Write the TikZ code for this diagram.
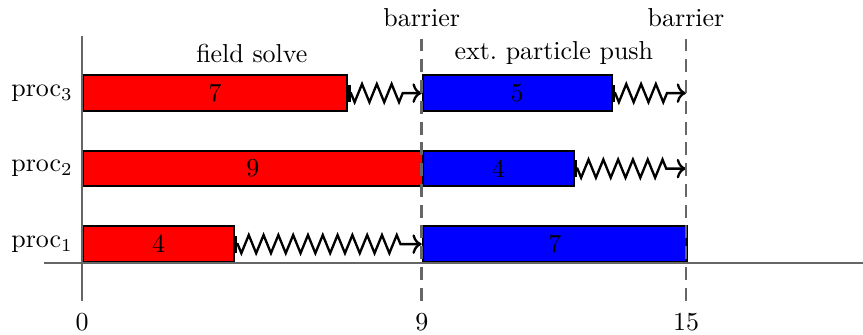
\documentclass[tikz,border=0pt]{standalone}
\usepackage{tikz}
\usetikzlibrary{arrows.meta,positioning,decorations.pathmorphing}

\begin{document}
\begin{tikzpicture}[
  x=0.511cm, y=0.511cm,
  axis/.style={line width=1pt, black!60},
  barrier/.style={line width=1pt, black!60, dash pattern=on 5pt off 3pt},
  task/.style={rectangle, draw, thick, anchor=west, inner sep=0pt, minimum height=0.94*0.511cm, minimum width=#1*0.511cm},
  field/.style={task=#1, fill=red},
  push/.style={task=#1, fill=blue},
  wait/.style={|->, line width=0.9pt, decorate, decoration={zigzag, mirror, segment length=5.7pt, amplitude=3.5pt, pre length=1pt, post length=6pt}}
]
\useasboundingbox (-2.172,-1.881) rectangle (20.689,6.967);

% field solve
\node[field=4] (f1) at (0,0.5) {4};
\node[field=9] (f2) at (0,2.5) {9};
\node[field=7] (f3) at (0,4.5) {7};

% particle push
\node[push=7] (p1) at (9,0.5) {7};
\node[push=4] (p2) at (9,2.5) {4};
\node[push=5] (p3) at (9,4.5) {5};

% idle time up to the barriers
\coordinate (wA1) at (9,0.5);
\coordinate (wA3) at (9,4.5);
\coordinate (wB2) at (16,2.5);
\coordinate (wB3) at (16,4.5);
\draw[wait] (f1.east) -- (wA1);
\draw[wait] (f3.east) -- (wA3);
\draw[wait] (p2.east) -- (wB2);
\draw[wait] (p3.east) -- (wB3);

% axes and barriers
\draw[axis] (-1,0) -- (20.689,0);
\draw[axis] (0,-1) -- (0,6);
\draw[barrier] (9,-1) -- (9,6);
\draw[barrier] (16,-1) -- (16,6);

\node[left=0pt of f1.west] (l1) {proc$_1$};
\node[left=0pt of f2.west] (l2) {proc$_2$};
\node[left=0pt of f3.west] (l3) {proc$_3$};

\node (n1) at (4.5,5.55) {field solve};
\node (n2) at (12.5,5.55) {ext.\ particle push};
\node (b1) at (9,6.5) {barrier};
\node (b2) at (16,6.5) {barrier};

\node (t0) at (0,-1.56) {0};
\node (t9) at (9,-1.56) {9};
\node (t15) at (16,-1.56) {15};
\end{tikzpicture}
\end{document}
